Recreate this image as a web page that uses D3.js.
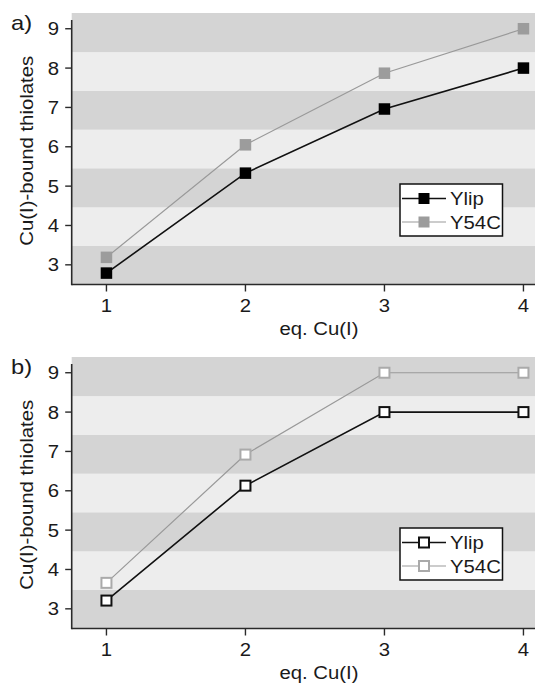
<!DOCTYPE html>
<html>
<head>
<meta charset="utf-8">
<script src="https://cdn.jsdelivr.net/npm/d3@7"></script>
<style>
  html, body { margin: 0; padding: 0; background: #fff; }
  svg { display: block; }
  text { font-family: "Liberation Sans", Arial, Helvetica, sans-serif; fill: #1a1a1a; }
</style>
</head>
<body>
<svg id="chart" width="535" height="683"></svg>
<script>
// Cu(I)-bound thiolates per eq. Cu(I), two panels
const eqCu = [1, 2, 3, 4];
const xTicks = [1, 2, 3, 4];
const yTicks = [3, 4, 5, 6, 7, 8, 9];
const seriesNames = ["Ylip", "Y54C"];
const panelLabels = ["a)", "b)"];

const ylipA = [2.79, 5.33, 6.96, 8.0];
const y54cA = [3.19, 6.05, 7.87, 9.0];
const ylipB = [3.21, 6.13, 8.0, 8.0];
const y54cB = [3.66, 6.92, 9.0, 9.0];

const svg = d3.select("#chart");
const W = 535;
const FONT = 18, SX = 1.13;

const x = d3.scaleLinear().domain([0.75, 4.25]).range([71.7, 71.7 + 3.5 * 139]);

function txt(g, px, py, str, opts = {}) {
  const rot = opts.rotate || 0;
  return g.append("text")
    .attr("transform", `translate(${px},${py}) rotate(${rot}) scale(${opts.sx || SX},1)`)
    .attr("text-anchor", opts.anchor || "start")
    .style("font-size", (opts.size || FONT) + "px")
    .text(str);
}

function drawPanel(top, ylip, y54c, label, open) {
  const bottom = top + 271.5;
  const y = d3.scaleLinear().domain([2.5, 9.4]).range([bottom, top]);
  const g = svg.append("g");

  // alternating horizontal bands: seven equal strips over the plot area
  const nb = 7;
  const bh = (bottom - top) / nb;
  g.selectAll("rect.band").data(d3.range(nb)).join("rect")
    .attr("class", "band")
    .attr("x", x(0.75)).attr("width", W - x(0.75))
    .attr("y", i => bottom - (i + 1) * bh).attr("height", bh + 0.3)
    .attr("fill", i => i % 2 === 0 ? "#d4d4d4" : "#ededed");

  // axes
  g.append("line").attr("x1", x(0.75)).attr("x2", x(0.75))
    .attr("y1", top + 7).attr("y2", bottom + 0.8)
    .attr("stroke", "#2a2a2a").attr("stroke-width", 1.6);
  g.append("line").attr("x1", x(0.75)).attr("x2", W)
    .attr("y1", bottom).attr("y2", bottom)
    .attr("stroke", "#2a2a2a").attr("stroke-width", 1.6);

  yTicks.forEach(t => {
    g.append("line").attr("x1", x(0.75) - 6.5).attr("x2", x(0.75))
      .attr("y1", y(t)).attr("y2", y(t)).attr("stroke", "#2a2a2a").attr("stroke-width", 1.4);
    txt(g, 59, y(t) + 6.5, String(t), { anchor: "end" });
  });
  xTicks.forEach(t => {
    g.append("line").attr("x1", x(t)).attr("x2", x(t))
      .attr("y1", bottom).attr("y2", bottom + 7).attr("stroke", "#2a2a2a").attr("stroke-width", 1.4);
    txt(g, x(t), bottom + 27, String(t), { anchor: "middle" });
  });

  txt(g, x(2.5) + 4, bottom + 50, "eq. Cu(I)", { anchor: "middle", size: 18 });
  txt(g, 33, (top + bottom) / 2 + 2, "Cu(I)-bound thiolates", { anchor: "middle", rotate: -90, size: 18 });
  txt(g, 11, top + 17, label, { size: 21 });

  // series
  const series = [
    { name: seriesNames[0], vals: ylip, line: "#111", lw: 1.6, mark: "#000" },
    { name: seriesNames[1], vals: y54c, line: "#999", lw: 1.2, mark: "#9c9c9c" }
  ];
  const lineGen = d3.line().x((d, i) => x(eqCu[i])).y(d => y(d));
  const ms = 11;

  function marker(sel, s) {
    if (open) {
      sel.attr("fill", "#fff").attr("stroke", s.name === "Ylip" ? "#111" : "#aaa").attr("stroke-width", 2);
    } else {
      sel.attr("fill", s.mark).attr("stroke", "none");
    }
  }

  // draw the lighter series first so the black one sits on top
  [series[1], series[0]].forEach(s => {
    g.append("path").datum(s.vals).attr("d", lineGen)
      .attr("fill", "none").attr("stroke", s.line).attr("stroke-width", s.lw);
    const sz = open ? ms - 1 : ms + 0.5;
    g.selectAll(null).data(s.vals).join("rect")
      .attr("x", (d, i) => x(eqCu[i]) - sz / 2).attr("y", d => y(d) - sz / 2)
      .attr("width", sz).attr("height", sz)
      .call(marker, s);
  });

  // legend
  const lg = g.append("g");
  lg.append("rect").attr("x", 400).attr("y", top + 171).attr("width", 102.5).attr("height", 52)
    .attr("fill", "#fff").attr("stroke", "#111").attr("stroke-width", 1.5);
  series.forEach((s, i) => {
    const ry = top + 185.5 + i * 23.5;
    lg.append("line").attr("x1", 402).attr("x2", 446).attr("y1", ry).attr("y2", ry)
      .attr("stroke", s.line).attr("stroke-width", s.lw);
    const sz = open ? ms - 1 : ms;
    lg.append("rect").attr("x", 424 - sz / 2).attr("y", ry - sz / 2).attr("width", sz).attr("height", sz)
      .call(marker, s);
    txt(lg, 450, ry + 6.5, s.name, { size: 18 });
  });
}

drawPanel(13, ylipA, y54cA, panelLabels[0], false);
drawPanel(357, ylipB, y54cB, panelLabels[1], true);
</script>
</body>
</html>
